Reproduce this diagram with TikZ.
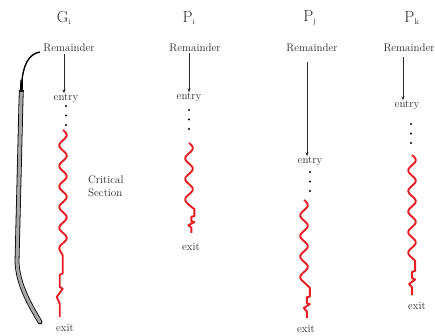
\documentclass[tikz,border=0pt]{standalone}
\usetikzlibrary{arrows.meta}
\definecolor{cred}{RGB}{230,30,35}
\definecolor{ink}{RGB}{40,40,40}
\begin{document}
\begin{tikzpicture}[x=1pt,y=-1pt,
  txt/.style={inner sep=0pt,text=ink,font=\fontsize{11}{13}\selectfont},
  ttl/.style={inner sep=0pt,text=ink,font=\fontsize{16}{16}\selectfont},
  arr/.style={draw=ink,line width=0.7pt,-{Stealth[length=4pt,width=3pt]}},
  cs/.style={draw=cred,line width=1.9pt,line join=round},
  dotf/.style={fill=black}]
\useasboundingbox (0,0) rectangle (435,336);
\newcommand\redline[4]{%
  \pgfmathsetmacro\hh{#4-#3}%
  \draw[cs] plot[domain=#2:#3,samples=60,smooth] ({#1+3.8*sin((\x-#2)*17.5)},\x)
    -- ++(3,0.08*\hh) -- ++(0,0.27*\hh) -- ++(-3,0.02*\hh) -- ++(0,0.18*\hh)
    -- ++(3,0.03*\hh) -- ++(-6,0.12*\hh) -- ++(3,0.1*\hh) -- ++(0,0.2*\hh);}
\newcommand\threedots[2]{%
  \fill (#1,#2) circle (1.1pt); \fill (#1,#2+9.5) circle (1.1pt); \fill (#1,#2+19) circle (1.1pt);}
% gray loop
\draw[black,line width=1.4pt] (40,52) .. controls (28,54) and (23,66) .. (21.6,84);
\draw[black,line width=2.6pt] (21.6,80) -- (21.4,92);
\draw[black,line width=4.8pt,line cap=butt] (21.4,90) -- (21,100) -- (17,262) .. controls (18,285) and (30,305) .. (40,322);
\fill[black] (40,322) circle (2.4pt);
\fill[gray!70] (40,322) circle (1.6pt);
\draw[gray!70,line width=3.2pt,line cap=butt] (21.3,92) -- (21,100) -- (17,262) .. controls (18,285) and (30,305) .. (40,322);
% G_i
\node[ttl] (tg) at (64,18) {G$_{\scriptscriptstyle\mathrm{i}}$};
\node[txt] (rg) at (69,48) {Remainder};
\node[txt] (eg) at (66,98) {entry};
\node[txt] (xg) at (65,328) {exit};
\node[txt,align=left,anchor=west] (crit) at (88,186) {Critical\\Section};
\draw[arr] (64,54) -- (eg.north -| 64,0);
\threedots{66}{106}
\redline{63}{130}{250}{317}
% P_i
\node[ttl] (ti) at (189,18) {P$_{\scriptscriptstyle\mathrm{i}}$};
\node[txt] (ri) at (195,48) {Remainder};
\node[txt] (ei) at (189,97) {entry};
\node[txt] (xi) at (191,247) {exit};
\draw[arr] (189,53) -- (ei.north -| 189,0);
\threedots{189}{110}
\redline{189}{143}{207}{233}
% P_j
\node[ttl] (tj) at (310,18) {P$_{\scriptscriptstyle\mathrm{j}}$};
\node[txt] (rj) at (312,48) {Remainder};
\node[txt] (ej) at (310,161) {entry};
\node[txt] (xj) at (306,329) {exit};
\draw[arr] (307,62) -- (ej.north -| 307,0);
\threedots{310}{172}
\redline{304}{200}{285}{318}
% P_k
\node[ttl] (tk) at (412,18) {P$_{\scriptscriptstyle\mathrm{k}}$};
\node[txt] (rk) at (409,48) {Remainder};
\node[txt] (ek) at (407,105) {entry};
\node[txt] (xk) at (417,306) {exit};
\draw[arr] (403,57) -- (ek.north -| 403,0);
\threedots{411}{124}
\redline{412}{155}{258}{295}
\end{tikzpicture}
\end{document}
